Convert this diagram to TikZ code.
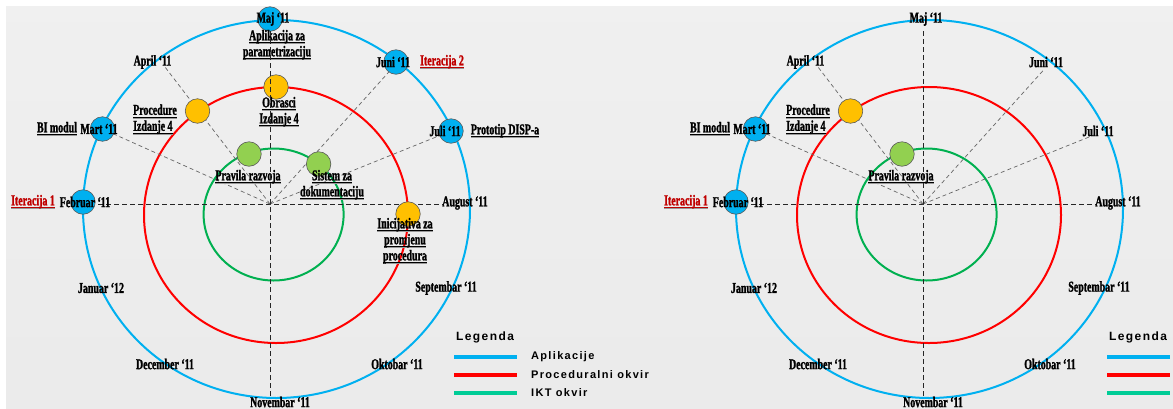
\documentclass[tikz,border=0pt]{standalone}
\usepackage{fontspec}
\newfontfamily\lblfont[FakeStretch=0.66,FakeBold=1.4]{Liberation Serif}
\newfontfamily\legfont[LetterSpace=12]{Liberation Sans}
\usetikzlibrary{positioning}

\definecolor{aplblue}{RGB}{0,176,240}
\definecolor{procred}{RGB}{255,0,0}
\definecolor{iktgreen}{RGB}{0,176,80}
\definecolor{leggreen}{RGB}{0,204,150}
\definecolor{nodeorange}{RGB}{255,192,0}
\definecolor{nodegreen}{RGB}{146,208,80}
\definecolor{iterred}{RGB}{192,0,0}

\pgfdeclarelayer{back}
\pgfdeclarelayer{bg}
\pgfdeclarelayer{fg}
\pgfsetlayers{back,bg,main,fg}

% underline with a grey shadow
\newcommand\ulbl[1]{\setbox0\hbox{#1}\leavevmode
  \rlap{\color{black!40}\rule[-3.8pt]{\wd0}{1.3pt}}%
  \rlap{\rule[-2.7pt]{\wd0}{0.8pt}}\box0}

% one cycle: rings, months, common nodes, legend lines
\newcommand\drawcycle[1]{%
  \node[apl]  (#1mart) at (102.5,129) {};
  \node[apl]  (#1feb)  at (83,202) {};
  \node[proc] (#1proc) at (197.5,111) {};
  \node[ikt]  (#1prav) at (249,154) {};

  \coordinate (#1c)    at (270,204);
  \coordinate (#1top)  at (270,31);
  \coordinate (#1bot)  at (270,396);
  \coordinate (#1west) at (98,204);
  \coordinate (#1east) at (443,204);
  \coordinate (#1apr)  at (165,67);
  \coordinate (#1jun)  at (391.5,69);
  \coordinate (#1jul)  at (441,135);

  \begin{pgfonlayer}{bg}
    \draw[aplring]  (276.5,209) ellipse [x radius=193.5pt, y radius=189pt];
    \draw[procring] (276,215) ellipse [x radius=132pt, y radius=128pt];
    \draw[iktring]  (273.6,214.5) ellipse [x radius=70pt, y radius=66pt];
    \draw[axis]   (#1west) -- (#1east);
    \draw[radial] (#1c) -- (#1apr);
    \draw[radial] (#1c) -- (#1mart);
    \draw[radial] (#1c) -- (#1jun);
    \draw[radial] (#1c) -- (#1jul);
  \end{pgfonlayer}
  \begin{pgfonlayer}{fg}
    \draw[axis] (#1top) -- (#1bot);
  \end{pgfonlayer}

  \node[month] (#1maj-l)  at (273,19)  {Maj ‘11};
  \node[month] (#1apr-l)  at (152.5,62) {April ‘11};
  \node[month] (#1jun-l)  at (393,62)  {Juni ‘11};
  \node[month] (#1jul-l)  at (445,131) {Juli ‘11};
  \node[month] (#1mart-l) at (99,129)  {Mart ‘11};
  \node[month] (#1feb-l)  at (85,202)  {Februar ‘11};
  \node[month] (#1aug-l)  at (465,203) {August ‘11};
  \node[month] (#1sep-l)  at (446,288) {Septembar ‘11};
  \node[month] (#1okt-l)  at (397,364) {Oktobar ‘11};
  \node[month] (#1nov-l)  at (280,402) {Novembar ‘11};
  \node[month] (#1dec-l)  at (165,364) {December ‘11};
  \node[month] (#1jan-l)  at (101,288) {Januar ‘12};

  \node[month] (#1bi)   at (57,129) {\ulbl{BI modul}};
  \node[iter]  (#1it1)  at (33,202) {\ulbl{Iteracija 1}};
  \node[task, anchor=west, align=left] (#1proc-l) at (133,119.5)
    {\ulbl{Procedure}\\\ulbl{Izdanje 4}};
  \node[month] (#1prav-l) at (248,177) {\ulbl{Pravila razvoja}};

  % legend
  \node[leghead] (#1leg) at (485,337) {Legenda};
  \coordinate (#1leg1) at (454,357);
  \coordinate (#1leg2) at (454,375);
  \coordinate (#1leg3) at (454,393);
  \draw[aplleg]  (#1leg1) -- ++(63,0) coordinate (#1leg1e);
  \draw[procleg] (#1leg2) -- ++(63,0) coordinate (#1leg2e);
  \draw[iktleg]  (#1leg3) -- ++(63,0) coordinate (#1leg3e);
}

\begin{document}
\begin{tikzpicture}[x=1pt,y=-1pt,
    dot/.style={circle,draw=black!65,line width=0.6pt,minimum size=24.5pt,inner sep=0pt},
    apl/.style={dot,fill=aplblue},
    proc/.style={dot,fill=nodeorange},
    ikt/.style={dot,fill=nodegreen},
    aplring/.style={draw=aplblue,line width=2pt},
    procring/.style={draw=procred,line width=2pt},
    iktring/.style={draw=iktgreen,line width=2pt},
    axis/.style={draw=black!85,line width=0.8pt,dash pattern=on 5pt off 3pt},
    radial/.style={draw=black!60,line width=0.7pt,dash pattern=on 4pt off 3pt},
    month/.style={font=\lblfont\bfseries\fontsize{15}{16}\selectfont,inner sep=0pt},
    task/.style={month,align=center},
    iter/.style={month,text=iterred},
    leghead/.style={font=\legfont\bfseries\fontsize{12}{14}\selectfont,inner sep=0pt},
    legitem/.style={font=\legfont\bfseries\fontsize{11}{13}\selectfont,inner sep=0pt},
    aplleg/.style={draw=aplblue,line width=3.5pt},
    procleg/.style={draw=procred,line width=3.5pt},
    iktleg/.style={draw=leggreen,line width=3.5pt}]

  \useasboundingbox (0,0) rectangle (1173,408);
  \clip (0,0) rectangle (1173,408);
  \begin{pgfonlayer}{back}
    \fill[white] (0,0) rectangle (1173,408);
    \shade[top color=black!6,middle color=black!11,bottom color=black!8]
      (6,6) rectangle (1173,408);
  \end{pgfonlayer}

  % first cycle
  \node[apl]  (Lmaj) at (270,19)  {};
  \node[apl]  (Ljun) at (396,62)  {};
  \node[apl]  (Ljul) at (451,131) {};
  \node[proc] (Lobr) at (276,87)  {};
  \node[proc] (Lini) at (408,214) {};
  \node[ikt]  (Lsis) at (318.6,164) {};
  \drawcycle{L}
  \node[task] (Lapl-l) at (277,45) {\ulbl{Aplikacija za}\\\ulbl{parametrizaciju}};
  \node[iter]  (Lit2)   at (442,62)  {\ulbl{Iteracija 2}};
  \node[month] (Ldisp)  at (505,131) {\ulbl{Prototip DISP-a}};
  \node[task]  (Lobr-l) at (279,112) {\ulbl{Obrasci}\\\ulbl{Izdanje 4}};
  \node[task]  (Lsis-l) at (332,185) {\ulbl{Sistem za}\\\ulbl{dokumentaciju}};
  \node[task]  (Lini-l) at (405,241) {\ulbl{Inicijativa za}\\\ulbl{promjenu}\\\ulbl{procedura}};
  \node[legitem, right=14pt of Lleg1e] (Lapl-t)  {Aplikacije};
  \node[legitem, right=14pt of Lleg2e] (Lproc-t) {Proceduralni okvir};
  \node[legitem, right=14pt of Lleg3e] (Likt-t)  {IKT okvir};

  % second cycle
  \begin{scope}[xshift=653pt]
    \drawcycle{R}
  \end{scope}

\end{tikzpicture}
\end{document}
